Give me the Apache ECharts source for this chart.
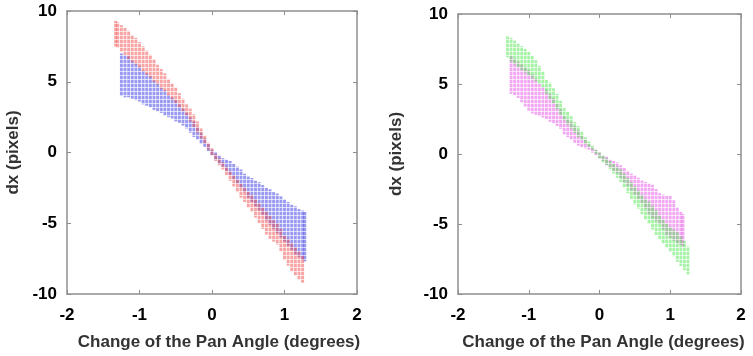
<!DOCTYPE html>
<html>
<head>
<meta charset="utf-8">
<script src="https://cdn.jsdelivr.net/npm/echarts@6/dist/echarts.min.js"></script>
<style>
html,body{margin:0;padding:0;background:#fff;}
#main{width:753px;height:356px;}
</style>
</head>
<body>
<div id="main"></div>
<script>
// Tick labels
const xTicks = [-2, -1, 0, 1, 2];
const yTicks = [-10, -5, 0, 5, 10];

// Left panel, blue band: [pan angle, dx low, dx high]
const leftBlue = [
  [-1.25,4.0,7.0],[-1.20,3.9,6.9],[-1.15,3.9,6.8],[-1.10,3.8,6.5],[-1.05,3.7,6.3],
  [-1.00,3.6,6.1],[-0.95,3.4,5.8],[-0.90,3.3,5.6],[-0.85,3.2,5.4],[-0.80,3.0,5.1],
  [-0.75,2.9,4.9],[-0.70,2.8,4.6],[-0.65,2.6,4.4],[-0.60,2.5,4.1],[-0.55,2.4,3.9],
  [-0.50,2.2,3.7],[-0.45,2.1,3.4],[-0.40,1.9,3.1],[-0.35,1.7,2.8],[-0.30,1.4,2.5],
  [-0.25,1.1,2.2],[-0.20,0.9,1.8],[-0.15,0.6,1.4],[-0.10,0.4,1.0],[-0.05,0.1,0.6],
  [0.00,-0.2,0.2],[0.05,-0.5,0.0],[0.10,-0.8,-0.2],[0.15,-1.0,-0.4],[0.20,-1.3,-0.5],
  [0.25,-1.6,-0.6],[0.30,-1.9,-0.8],[0.35,-2.2,-1.0],[0.40,-2.5,-1.2],[0.45,-2.8,-1.5],
  [0.50,-3.2,-1.7],[0.55,-3.5,-1.8],[0.60,-3.8,-2.0],[0.65,-4.1,-2.1],[0.70,-4.4,-2.3],
  [0.75,-4.8,-2.5],[0.80,-5.1,-2.6],[0.85,-5.4,-2.8],[0.90,-5.7,-2.9],[0.95,-6.0,-3.1],
  [1.00,-6.3,-3.3],[1.05,-6.6,-3.5],[1.10,-6.9,-3.7],[1.15,-7.2,-3.8],[1.20,-7.4,-4.0],
  [1.25,-7.6,-4.1],[1.28,-7.7,-4.2]
];

// Left panel, red band
const leftRed = [
  [-1.33,7.5,9.3],[-1.30,7.4,9.2],[-1.25,7.1,9.0],[-1.20,6.9,8.8],[-1.15,6.6,8.6],
  [-1.10,6.4,8.3],[-1.05,6.2,8.1],[-1.00,6.0,7.8],[-0.95,5.7,7.5],[-0.90,5.5,7.2],
  [-0.85,5.3,6.9],[-0.80,5.0,6.6],[-0.75,4.8,6.2],[-0.70,4.5,5.9],[-0.65,4.3,5.6],
  [-0.60,4.0,5.2],[-0.55,3.7,4.9],[-0.50,3.5,4.6],[-0.45,3.2,4.2],[-0.40,2.9,3.8],
  [-0.35,2.6,3.4],[-0.30,2.2,3.1],[-0.25,1.8,2.7],[-0.20,1.4,2.2],[-0.15,1.0,1.7],
  [-0.10,0.6,1.2],[-0.05,0.2,0.7],[0.00,-0.2,0.3],[0.05,-0.6,-0.1],[0.10,-0.9,-0.4],
  [0.15,-1.2,-0.7],[0.20,-1.6,-1.0],[0.25,-2.0,-1.3],[0.30,-2.4,-1.6],[0.35,-2.8,-1.9],
  [0.40,-3.2,-2.2],[0.45,-3.5,-2.5],[0.50,-3.9,-2.8],[0.55,-4.2,-3.0],[0.60,-4.6,-3.3],
  [0.65,-5.0,-3.6],[0.70,-5.4,-3.9],[0.75,-5.8,-4.2],[0.80,-6.1,-4.5],[0.85,-6.3,-4.8],
  [0.90,-6.5,-5.0],[0.95,-7.0,-5.4],[1.00,-7.6,-5.9],[1.05,-8.0,-6.1],[1.10,-8.4,-6.4],
  [1.15,-8.7,-6.7],[1.20,-9.0,-7.0],[1.25,-9.2,-7.3]
];

// Right panel, green band
const rightGreen = [
  [-1.30,6.9,8.4],[-1.25,6.6,8.3],[-1.20,6.4,8.1],[-1.15,6.2,7.9],[-1.10,6.0,7.7],
  [-1.05,5.8,7.5],[-1.00,5.6,7.3],[-0.95,5.4,7.0],[-0.90,5.2,6.7],[-0.85,5.0,6.3],
  [-0.80,4.7,5.9],[-0.75,4.3,5.3],[-0.70,3.9,5.1],[-0.65,3.6,4.7],[-0.60,3.2,4.3],
  [-0.55,2.8,3.8],[-0.50,2.4,3.3],[-0.45,2.1,3.0],[-0.40,1.8,2.7],[-0.35,1.5,2.3],
  [-0.30,1.2,2.0],[-0.25,1.0,1.6],[-0.20,0.7,1.2],[-0.15,0.5,0.9],[-0.10,0.3,0.6],
  [-0.05,0.0,0.3],[0.00,-0.3,0.1],[0.05,-0.6,-0.1],[0.10,-0.8,-0.3],[0.15,-1.1,-0.5],
  [0.20,-1.4,-0.7],[0.25,-1.7,-0.9],[0.30,-2.0,-1.1],[0.35,-2.4,-1.4],[0.40,-2.8,-1.7],
  [0.45,-3.2,-2.0],[0.50,-3.6,-2.3],[0.55,-3.9,-2.6],[0.60,-4.3,-2.9],[0.65,-4.7,-3.2],
  [0.70,-5.0,-3.4],[0.75,-5.4,-3.7],[0.80,-5.8,-4.0],[0.85,-6.1,-4.4],[0.90,-6.4,-4.7],
  [0.95,-6.7,-5.0],[1.00,-7.0,-5.2],[1.05,-7.3,-5.4],[1.10,-7.7,-5.6],[1.15,-8.0,-5.9],
  [1.20,-8.3,-6.2],[1.25,-8.6,-6.6]
];

// Right panel, magenta band
const rightMagenta = [
  [-1.25,4.3,7.0],[-1.20,4.2,6.8],[-1.15,4.0,6.6],[-1.10,3.7,6.4],[-1.05,3.4,6.2],
  [-1.00,3.1,6.0],[-0.95,2.9,5.7],[-0.90,2.8,5.4],[-0.85,2.7,5.0],[-0.80,2.6,4.8],
  [-0.75,2.5,4.6],[-0.70,2.3,4.3],[-0.65,2.2,4.0],[-0.60,2.0,3.6],[-0.55,1.8,3.2],
  [-0.50,1.4,2.7],[-0.45,1.2,2.5],[-0.40,1.0,2.3],[-0.35,0.8,2.0],[-0.30,0.6,1.7],
  [-0.25,0.5,1.3],[-0.20,0.4,1.0],[-0.15,0.3,0.7],[-0.10,0.1,0.5],[-0.05,-0.1,0.3],
  [0.00,-0.3,0.1],[0.05,-0.5,-0.1],[0.10,-0.8,-0.2],[0.15,-1.0,-0.4],[0.20,-1.2,-0.5],
  [0.25,-1.4,-0.6],[0.30,-1.7,-0.8],[0.35,-2.0,-1.0],[0.40,-2.3,-1.2],[0.45,-2.6,-1.4],
  [0.50,-2.9,-1.5],[0.55,-3.2,-1.7],[0.60,-3.5,-1.9],[0.65,-3.9,-2.0],[0.70,-4.3,-2.1],
  [0.75,-4.6,-2.2],[0.80,-4.8,-2.5],[0.85,-5.0,-2.8],[0.90,-5.4,-2.9],[0.95,-5.8,-3.0],
  [1.00,-6.0,-3.0],[1.05,-6.2,-3.3],[1.10,-6.4,-3.8],[1.15,-6.5,-4.1],[1.18,-6.6,-4.3]
];

const xTitle = 'Change of the Pan Angle (degrees)';
const yTitle = 'dx (pixels)';

const chart = echarts.init(document.getElementById('main'));
const FONT = 'Liberation Sans, Arial, sans-serif';
const AXIS_COLOR = '#8f8f8f';

// small dotted texture tile, like the plotted sample grid
function dotPattern(color) {
  const c = document.createElement('canvas');
  c.width = 3; c.height = 4;
  const ctx = c.getContext('2d');
  ctx.fillStyle = color;
  ctx.fillRect(0, 0, 3, 3);
  ctx.globalAlpha = 0.35;
  ctx.fillRect(0, 3, 3, 1);
  return { image: c, repeat: 'repeat' };
}

function strips(color, opacity) {
  const pat = dotPattern(color);
  return function (params, api) {
    const x = api.value(0), lo = api.value(1), hi = api.value(2);
    const top = api.coord([x, hi]);
    const bot = api.coord([x, lo]);
    const w = api.size([0.04, 0])[0];
    return {
      type: 'rect',
      shape: { x: top[0] - w / 2, y: top[1], width: w, height: Math.max(bot[1] - top[1], 1) },
      style: { fill: pat, opacity: opacity }
    };
  };
}

function mkX(gi, pos, shift) {
  const main = pos === 'bottom';
  return {
    type: 'value', gridIndex: gi, position: pos, min: -2, max: 2, interval: 1,
    axisLine: { show: true, onZero: false, lineStyle: { color: AXIS_COLOR, width: 1.5 } },
    axisTick: { show: true, inside: true, length: 4, lineStyle: { color: AXIS_COLOR } },
    axisLabel: { show: main, color: '#000', fontWeight: 'bold', fontSize: 17, fontFamily: FONT, margin: 13,
      formatter: v => xTicks.indexOf(v) >= 0 ? String(v) : '' },
    splitLine: { show: false },
    name: main ? xTitle : '', nameLocation: 'middle', nameGap: 40,
    nameTextStyle: { color: '#333', fontWeight: 'bold', fontSize: 17, fontFamily: FONT, padding: [0, 0, 0, shift] }
  };
}
function mkY(gi, pos, gap) {
  const main = pos === 'left';
  return {
    type: 'value', gridIndex: gi, position: pos, min: -10, max: 10, interval: 5,
    axisLine: { show: true, onZero: false, lineStyle: { color: AXIS_COLOR, width: 1.5 } },
    axisTick: { show: true, inside: true, length: 4, lineStyle: { color: AXIS_COLOR } },
    axisLabel: { show: main, color: '#000', fontWeight: 'bold', fontSize: 17, fontFamily: FONT, margin: 10,
      formatter: v => yTicks.indexOf(v) >= 0 ? String(v) : '' },
    splitLine: { show: false },
    name: main ? yTitle : '', nameLocation: 'middle', nameGap: gap, nameRotate: 90,
    nameTextStyle: { color: '#333', fontWeight: 'bold', fontSize: 17, fontFamily: FONT }
  };
}

chart.setOption({
  animation: false,
  backgroundColor: '#fff',
  grid: [
    { left: 67, top: 11, width: 290, height: 287 },
    { left: 458, top: 14, width: 283, height: 283 }
  ],
  xAxis: [mkX(0, 'bottom', 14), mkX(0, 'top', 0), mkX(1, 'bottom', 8), mkX(1, 'top', 0)],
  yAxis: [mkY(0, 'left', 45), mkY(0, 'right', 0), mkY(1, 'left', 53), mkY(1, 'right', 0)],
  series: [
    { type: 'custom', xAxisIndex: 0, yAxisIndex: 0, renderItem: strips('#4646e6', 0.55), data: leftBlue, clip: true },
    { type: 'custom', xAxisIndex: 0, yAxisIndex: 0, renderItem: strips('#ee4a4a', 0.5), data: leftRed, clip: true },
    { type: 'custom', xAxisIndex: 2, yAxisIndex: 2, renderItem: strips('#e650e6', 0.5), data: rightMagenta, clip: true },
    { type: 'custom', xAxisIndex: 2, yAxisIndex: 2, renderItem: strips('#4ee64e', 0.5), data: rightGreen, clip: true }
  ]
});
</script>
</body>
</html>
